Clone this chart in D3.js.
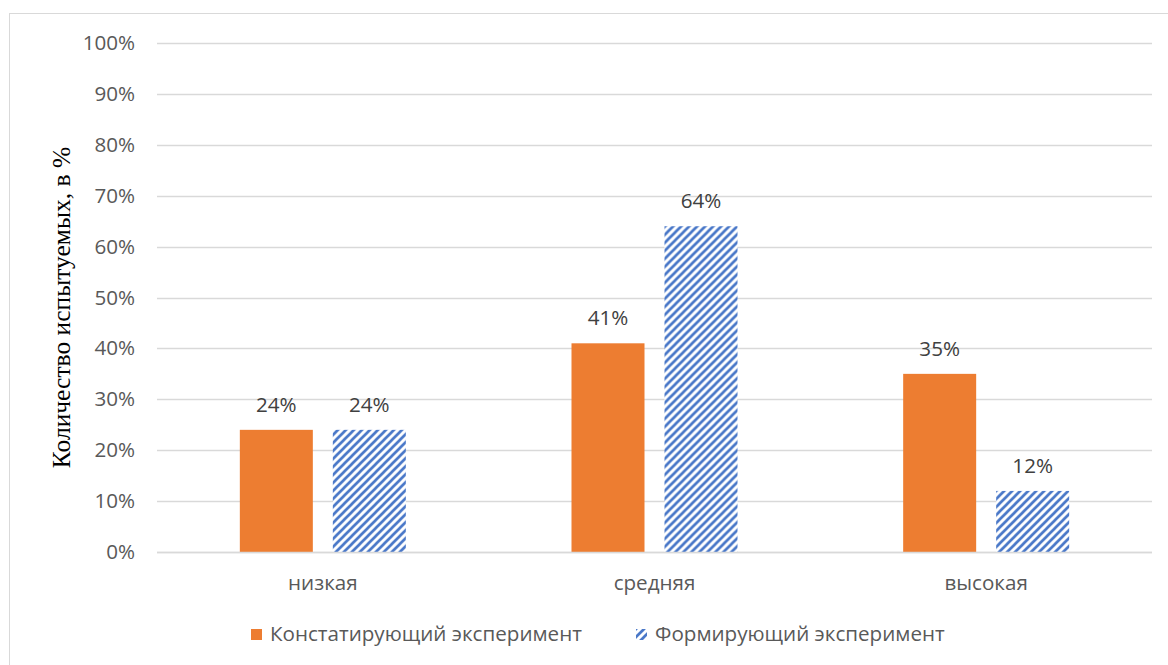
<!DOCTYPE html>
<html>
<head>
<meta charset="utf-8">
<script src="https://cdn.jsdelivr.net/npm/d3@7"></script>
<style>
  html, body { margin: 0; padding: 0; background: #fff; }
  svg { display: block; }
</style>
</head>
<body>
<svg id="chart" width="1168" height="665"></svg>
<script>
// Уровни и доли испытуемых по двум этапам эксперимента
const categories = ["низкая", "средняя", "высокая"];
const seriesNames = ["Констатирующий эксперимент", "Формирующий эксперимент"];
const ascertaining = [0.24, 0.41, 0.35];
const formative = [0.24, 0.64, 0.12];
const yTicks = [0, 0.1, 0.2, 0.3, 0.4, 0.5, 0.6, 0.7, 0.8, 0.9, 1.0];
const yTitle = "Количество испытуемых, в %";

const svg = d3.select("#chart");
const W = 1168, H = 665;
const plot = { left: 157, right: 1152, top: 43, bottom: 552 };
const textColor = "#595959";
const font = "'Open Sans', 'Noto Sans', sans-serif";
const fontSize = "20.6px";

// Штриховка для второго ряда
const defs = svg.append("defs");
const pat = defs.append("pattern")
  .attr("id", "hatch")
  .attr("patternUnits", "userSpaceOnUse")
  .attr("width", 8).attr("height", 8);
pat.append("rect").attr("width", 8).attr("height", 8).attr("fill", "#ffffff");
pat.append("path")
  .attr("d", "M-2,2 L2,-2 M0,8 L8,0 M6,10 L10,6")
  .attr("stroke", "#4a78c8")
  .attr("stroke-width", 2.7);

// Рамка области диаграммы
svg.append("rect")
  .attr("x", 9.5).attr("y", 13.5)
  .attr("width", W + 20).attr("height", H + 20)
  .attr("fill", "#fff")
  .attr("stroke", "#d9d9d9").attr("stroke-width", 1);

const x0 = d3.scaleBand().domain(categories).range([plot.left, plot.right]).paddingInner(0).paddingOuter(0);
const y = d3.scaleLinear().domain([0, 1]).range([plot.bottom, plot.top]);

// Сетка
svg.append("g")
  .selectAll("line")
  .data(yTicks)
  .join("line")
  .attr("x1", plot.left).attr("x2", plot.right)
  .attr("y1", d => Math.round(y(d)) + 0.5).attr("y2", d => Math.round(y(d)) + 0.5)
  .attr("stroke", "#d9d9d9").attr("stroke-width", 1.3);

// Ось Y
const yAxis = d3.axisLeft(y).tickValues(yTicks).tickFormat(d3.format(".0%")).tickSize(0).tickPadding(22);
const gy = svg.append("g").attr("transform", `translate(${plot.left},0)`).call(yAxis);
gy.select(".domain").remove();
gy.selectAll("text")
  .attr("fill", textColor)
  .style("font-family", font)
  .style("font-size", fontSize);

// Подпись оси Y
svg.append("text")
  .attr("transform", `translate(70,${(plot.top + plot.bottom) / 2 + 10}) rotate(-90)`)
  .attr("text-anchor", "middle")
  .attr("fill", "#000")
  .style("font-family", "'Liberation Serif', 'DejaVu Serif', serif")
  .style("font-size", "25.5px")
  .text(yTitle);

// Ось X
const xAxis = d3.axisBottom(x0).tickSize(0).tickPadding(23);
const gx = svg.append("g").attr("transform", `translate(0,${plot.bottom})`).call(xAxis);
gx.select(".domain").remove();
gx.selectAll("text")
  .attr("fill", textColor)
  .style("font-family", font)
  .style("font-size", fontSize);

// Столбцы
const barW = 73, gap = 20;
const groupOffset = (x0.bandwidth() - (barW * 2 + gap)) / 2;

const rows = categories.map((c, i) => ({ c, vals: [ascertaining[i], formative[i]] }));
const groups = svg.append("g").selectAll("g")
  .data(rows)
  .join("g")
  .attr("transform", d => `translate(${x0(d.c) + groupOffset},0)`);

const fills = ["#ed7d31", "url(#hatch)"];
groups.selectAll("rect")
  .data(d => d.vals.map((v, k) => ({ v, k })))
  .join("rect")
  .attr("x", d => d.k * (barW + gap))
  .attr("width", barW)
  .attr("y", d => y(d.v))
  .attr("height", d => y(0) - y(d.v))
  .attr("fill", d => fills[d.k]);

// Подписи значений
groups.selectAll("text.val")
  .data(d => d.vals.map((v, k) => ({ v, k })))
  .join("text")
  .attr("class", "val")
  .attr("x", d => d.k * (barW + gap) + barW / 2)
  .attr("y", d => y(d.v) - 18)
  .attr("text-anchor", "middle")
  .attr("fill", "#404040")
  .style("font-family", font)
  .style("font-size", fontSize)
  .text(d => d3.format(".0%")(d.v));

// Базовая линия
svg.append("line")
  .attr("x1", plot.left).attr("x2", plot.right)
  .attr("y1", Math.round(y(0)) + 0.5).attr("y2", Math.round(y(0)) + 0.5)
  .attr("stroke", "#d9d9d9").attr("stroke-width", 1.5);

// Легенда
const legendX = [251, 636];
const leg = svg.append("g").selectAll("g")
  .data(seriesNames)
  .join("g")
  .attr("transform", (d, i) => `translate(${legendX[i]},629)`);
leg.append("rect").attr("width", 11).attr("height", 11).attr("fill", (d, i) => fills[i]);
leg.append("text")
  .attr("x", 19).attr("y", 12)
  .attr("fill", textColor)
  .style("font-family", font)
  .style("font-size", fontSize)
  .text(d => d);
</script>
</body>
</html>
